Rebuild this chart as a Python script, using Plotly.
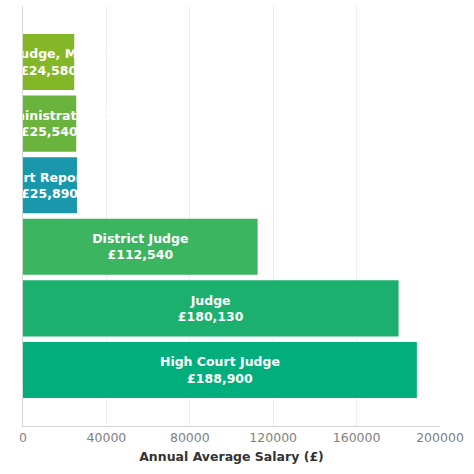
import plotly.graph_objects as go

# bottom to top, as plotly draws horizontal bar categories
jobs = [
    "High Court Judge",
    "Judge",
    "District Judge",
    "Court Reporter",
    "Court Administrative Officer",
    "Clerk to Judge, Magistrate",
]
salaries = [188900, 180130, 112540, 25890, 25540, 24580]
colors = ["#02af7c", "#1bb06e", "#3bb55f", "#1a97aa", "#6ab43e", "#84b728"]

x_ticks = [0, 40000, 80000, 120000, 160000, 200000]

labels = [f"<b>{j}<br>£{s:,}</b>" for j, s in zip(jobs, salaries)]

fig = go.Figure()
fig.add_trace(go.Bar(
    x=salaries,
    y=jobs,
    orientation="h",
    marker=dict(color=colors, line=dict(width=0)),
    text=labels,
    textposition="inside",
    insidetextanchor="middle",
    textangle=0,
    constraintext="none",
    textfont=dict(family="DejaVu Sans", size=12.5, color="white"),
    hoverinfo="x+y",
))

fig.update_layout(
    width=474,
    height=474,
    margin=dict(l=23, r=34, t=6, b=48, autoexpand=False),
    paper_bgcolor="white",
    plot_bgcolor="white",
    bargap=0.09,
    showlegend=False,
    font=dict(family="DejaVu Sans", size=12.5, color="#7f7f7f"),
)
fig.update_xaxes(
    range=[0, 200000],
    tickvals=x_ticks,
    ticktext=[str(t) for t in x_ticks],
    showgrid=True,
    gridcolor="#eeeeee",
    zeroline=False,
    showline=True,
    linecolor="#d6d6d6",
    ticks="",
    automargin=False,
    tickfont=dict(size=12.5, color="#7f7f7f"),
    title=dict(text="<b>Annual Average Salary (£)</b>",
               font=dict(size=12.5, color="#333333"), standoff=8),
)
fig.update_yaxes(
    range=[-0.91, 5.91],
    showticklabels=False,
    showgrid=False,
    zeroline=False,
    showline=True,
    linecolor="#d6d6d6",
    ticks="",
    automargin=False,
)

# drop the page's default body margin so the 474px figure fills the window
fig.write_html("out.html", config={"displayModeBar": False},
               post_script="document.body.style.margin='0';")
